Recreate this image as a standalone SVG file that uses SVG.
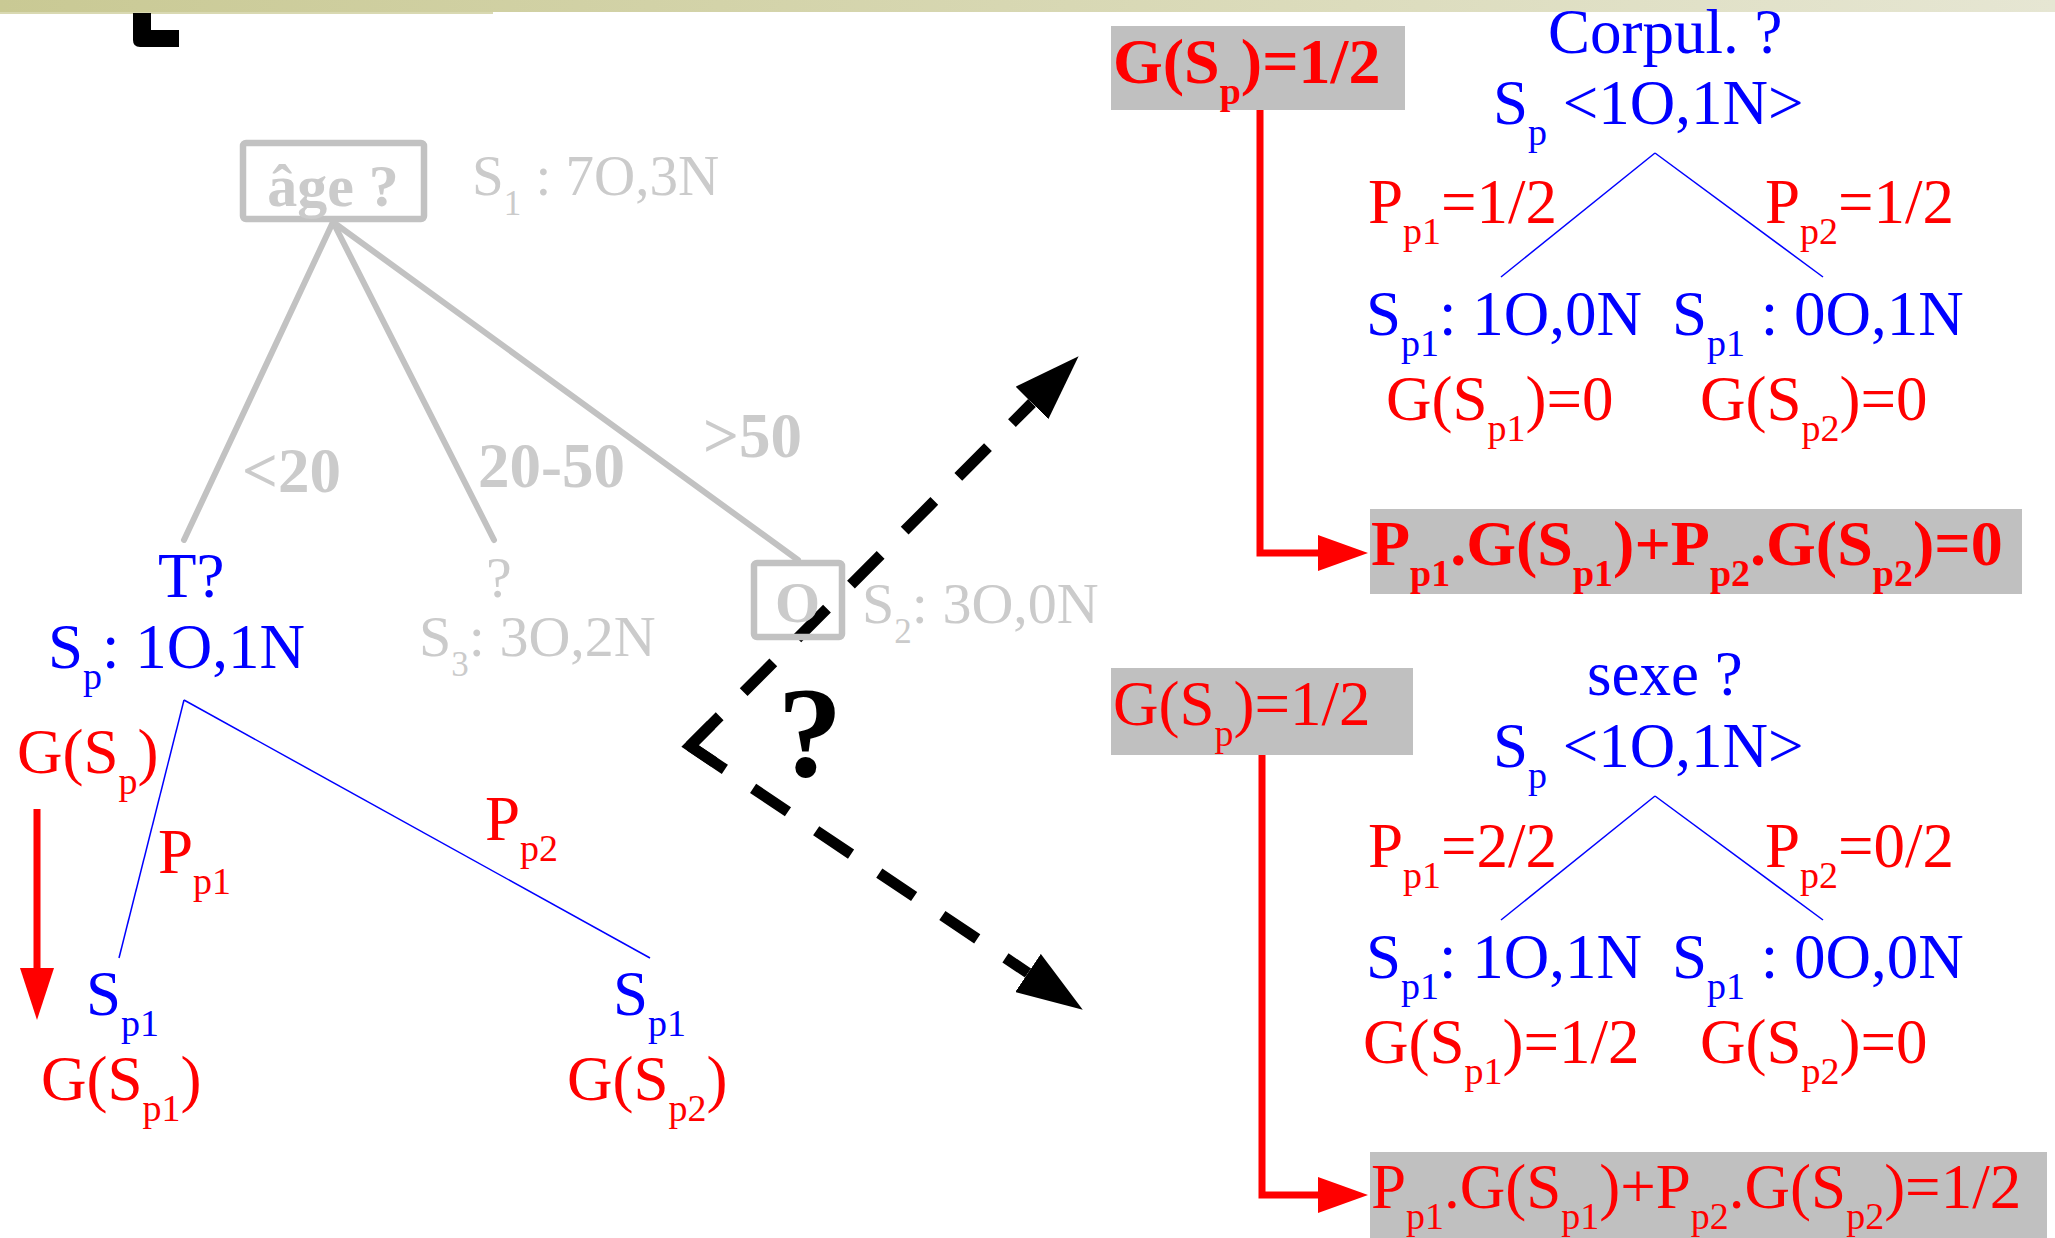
<svg xmlns="http://www.w3.org/2000/svg" width="2055" height="1238" viewBox="0 0 2055 1238">
<style>
text { font-family: "Liberation Serif", "Times New Roman", serif; font-size: 63px; }
.b { font-weight: bold; }
.blue { fill: #0000FF; }
.red { fill: #FF0000; }
.gray { fill: #CBCBCB; }
.g58 { font-size: 58px; }
.g57 { font-size: 57px; }
.g60 { font-size: 60px; }
.f64 { font-size: 64px; }
.q { font-size: 130px; fill: #000000; }
.s { font-size: 38px; }
.s35 { font-size: 35px; }
.gline { stroke: #C2C2C2; stroke-width: 6; fill: none; stroke-linecap: round; }
.gbox { stroke: #C2C2C2; stroke-width: 6.5; fill: none; stroke-linejoin: round; }
.bline { stroke: #0000FF; stroke-width: 1.5; fill: none; }
.rline { stroke: #FF0000; stroke-width: 7; fill: none; stroke-linejoin: miter; }
.dash { stroke: #000000; stroke-width: 11; fill: none; stroke-dasharray: 42 34; }
.fill { fill: #C0C0C0; }
</style>
<defs>
<linearGradient id="band" x1="0" y1="0" x2="1" y2="0">
<stop offset="0" stop-color="#C9C994"/>
<stop offset="0.35" stop-color="#D3D3A9"/>
<stop offset="1" stop-color="#E6E6D3"/>
</linearGradient>
<marker id="blackHead" markerUnits="userSpaceOnUse" viewBox="0 0 66 46" markerWidth="66" markerHeight="46" refX="0" refY="23" orient="auto">
<path d="M0,0 L66,23 L0,46 Z" fill="#000000"/>
</marker>
<marker id="redHead" markerUnits="userSpaceOnUse" viewBox="0 0 50 36" markerWidth="50" markerHeight="36" refX="0" refY="18" orient="auto">
<path d="M0,0 L50,18 L0,36 Z" fill="#FF0000"/>
</marker>
<marker id="redHeadL" markerUnits="userSpaceOnUse" viewBox="0 0 52 34" markerWidth="52" markerHeight="34" refX="0" refY="17" orient="auto">
<path d="M0,0 L52,17 L0,34 Z" fill="#FF0000"/>
</marker>
</defs>

<rect x="0" y="0" width="2055" height="12" fill="url(#band)"/>
<rect x="0" y="12" width="493" height="2" fill="#D9D9B2"/>
<path d="M133,13 H151 V30 H179 V47 H140 Q133,47 133,40 Z" fill="#000000"/>

<g id="connectors">
<line class="gline" x1="333" y1="222" x2="184" y2="540"/>
<line class="gline" x1="333" y1="222" x2="494" y2="540"/>
<line class="gline" x1="333" y1="222" x2="798" y2="560"/>
<line class="bline" x1="184" y1="700" x2="119" y2="958"/>
<line class="bline" x1="184" y1="700" x2="650" y2="958"/>
<line class="bline" x1="1655" y1="153" x2="1501" y2="277"/>
<line class="bline" x1="1655" y1="153" x2="1823" y2="277"/>
<line class="bline" x1="1655" y1="796" x2="1501" y2="920"/>
<line class="bline" x1="1655" y1="796" x2="1823" y2="920"/>
<path class="rline" d="M37,809 V968" marker-end="url(#redHeadL)"/>
<path class="rline" d="M1260,110 V553 H1318" marker-end="url(#redHead)"/>
<path class="rline" d="M1262,755 V1195 H1318" marker-end="url(#redHead)"/>
<path class="dash" d="M690,746 L1032,403" marker-end="url(#blackHead)"/>
<path class="dash" d="M690,746 L1028,973" marker-end="url(#blackHead)"/>
<path d="M711,725 L690,746 L714,762" stroke="#000000" stroke-width="11" fill="none" stroke-linejoin="miter"/>
<text class="gray b" x="242" y="492">&lt;20</text>
<text class="gray b" x="478" y="487">20-50</text>
<text class="gray b" x="703" y="457">&gt;50</text>
<text class="b q" x="810" y="776" text-anchor="middle">?</text>
</g>

<g id="node-age">
<rect class="gbox" x="243" y="143" width="181" height="76" rx="3"/>
<text class="gray b g60" x="333" y="206" text-anchor="middle">âge ?</text>
<text class="gray g57" x="472" y="195">S<tspan class="s35" dy="20">1</tspan><tspan dy="-20"> : 7O,3N</tspan></text>
</g>

<g id="node-T">
<text class="blue" x="158" y="597">T?</text>
<text class="blue" x="48" y="668">S<tspan class="s" dy="21">p</tspan><tspan dy="-21">: 1O,1N</tspan></text>
<text class="red" x="17" y="773">G(S<tspan class="s" dy="21">p</tspan><tspan dy="-21">)</tspan></text>
<text class="red" x="158" y="873">P<tspan class="s" dy="21">p1</tspan></text>
<text class="red" x="485" y="840">P<tspan class="s" dy="21">p2</tspan></text>
</g>

<g id="node-Sp1-left">
<text class="blue" x="86" y="1015">S<tspan class="s" dy="21">p1</tspan></text>
<text class="red" x="41" y="1100">G(S<tspan class="s" dy="21">p1</tspan><tspan dy="-21">)</tspan></text>
</g>

<g id="node-Sp1-right">
<text class="blue" x="613" y="1015">S<tspan class="s" dy="21">p1</tspan></text>
<text class="red" x="567" y="1100">G(S<tspan class="s" dy="21">p2</tspan><tspan dy="-21">)</tspan></text>
</g>

<g id="node-S3">
<text class="gray g58" x="486" y="597">?</text>
<text class="gray g58" x="419" y="656">S<tspan class="s35" dy="20">3</tspan><tspan dy="-20">: 3O,2N</tspan></text>
</g>

<g id="node-S2">
<rect class="gbox" x="754" y="563" width="88" height="74" rx="3"/>
<text class="gray b g58" x="775" y="622">O</text>
<text class="gray g58" x="862" y="623">S<tspan class="s35" dy="20">2</tspan><tspan dy="-20">: 3O,0N</tspan></text>
</g>

<g id="panel-corpulence">
<rect class="fill" x="1111" y="26" width="294" height="84"/>
<text class="red b f64" x="1113" y="83">G(S<tspan class="s" dy="21">p</tspan><tspan dy="-21">)=1/2</tspan></text>
<text class="blue" x="1548" y="53">Corpul. ?</text>
<text class="blue" x="1493" y="124">S<tspan class="s" dy="21">p</tspan><tspan dy="-21"> &lt;1O,1N&gt;</tspan></text>
<text class="red" x="1368" y="223">P<tspan class="s" dy="21">p1</tspan><tspan dy="-21">=1/2</tspan></text>
<text class="red" x="1765" y="223">P<tspan class="s" dy="21">p2</tspan><tspan dy="-21">=1/2</tspan></text>
<text class="blue" x="1366" y="335">S<tspan class="s" dy="21">p1</tspan><tspan dy="-21">: 1O,0N</tspan></text>
<text class="blue" x="1672" y="335">S<tspan class="s" dy="21">p1</tspan><tspan dy="-21"> : 0O,1N</tspan></text>
<text class="red" x="1386" y="420">G(S<tspan class="s" dy="21">p1</tspan><tspan dy="-21">)=0</tspan></text>
<text class="red" x="1700" y="420">G(S<tspan class="s" dy="21">p2</tspan><tspan dy="-21">)=0</tspan></text>
<rect class="fill" x="1370" y="509" width="652" height="85"/>
<text class="red b f64" x="1371" y="565">P<tspan class="s" dy="21">p1</tspan><tspan dy="-21">.G(S</tspan><tspan class="s" dy="21">p1</tspan><tspan dy="-21">)+P</tspan><tspan class="s" dy="21">p2</tspan><tspan dy="-21">.G(S</tspan><tspan class="s" dy="21">p2</tspan><tspan dy="-21">)=0</tspan></text>
</g>

<g id="panel-sexe">
<rect class="fill" x="1111" y="668" width="302" height="87"/>
<text class="red" x="1113" y="725">G(S<tspan class="s" dy="21">p</tspan><tspan dy="-21">)=1/2</tspan></text>
<text class="blue" x="1587" y="695">sexe ?</text>
<text class="blue" x="1493" y="767">S<tspan class="s" dy="21">p</tspan><tspan dy="-21"> &lt;1O,1N&gt;</tspan></text>
<text class="red" x="1368" y="867">P<tspan class="s" dy="21">p1</tspan><tspan dy="-21">=2/2</tspan></text>
<text class="red" x="1765" y="867">P<tspan class="s" dy="21">p2</tspan><tspan dy="-21">=0/2</tspan></text>
<text class="blue" x="1366" y="978">S<tspan class="s" dy="21">p1</tspan><tspan dy="-21">: 1O,1N</tspan></text>
<text class="blue" x="1672" y="978">S<tspan class="s" dy="21">p1</tspan><tspan dy="-21"> : 0O,0N</tspan></text>
<text class="red" x="1363" y="1063">G(S<tspan class="s" dy="21">p1</tspan><tspan dy="-21">)=1/2</tspan></text>
<text class="red" x="1700" y="1063">G(S<tspan class="s" dy="21">p2</tspan><tspan dy="-21">)=0</tspan></text>
<rect class="fill" x="1370" y="1152" width="677" height="90"/>
<text class="red" x="1371" y="1208">P<tspan class="s" dy="21">p1</tspan><tspan dy="-21">.G(S</tspan><tspan class="s" dy="21">p1</tspan><tspan dy="-21">)+P</tspan><tspan class="s" dy="21">p2</tspan><tspan dy="-21">.G(S</tspan><tspan class="s" dy="21">p2</tspan><tspan dy="-21">)=1/2</tspan></text>
</g>
</svg>
